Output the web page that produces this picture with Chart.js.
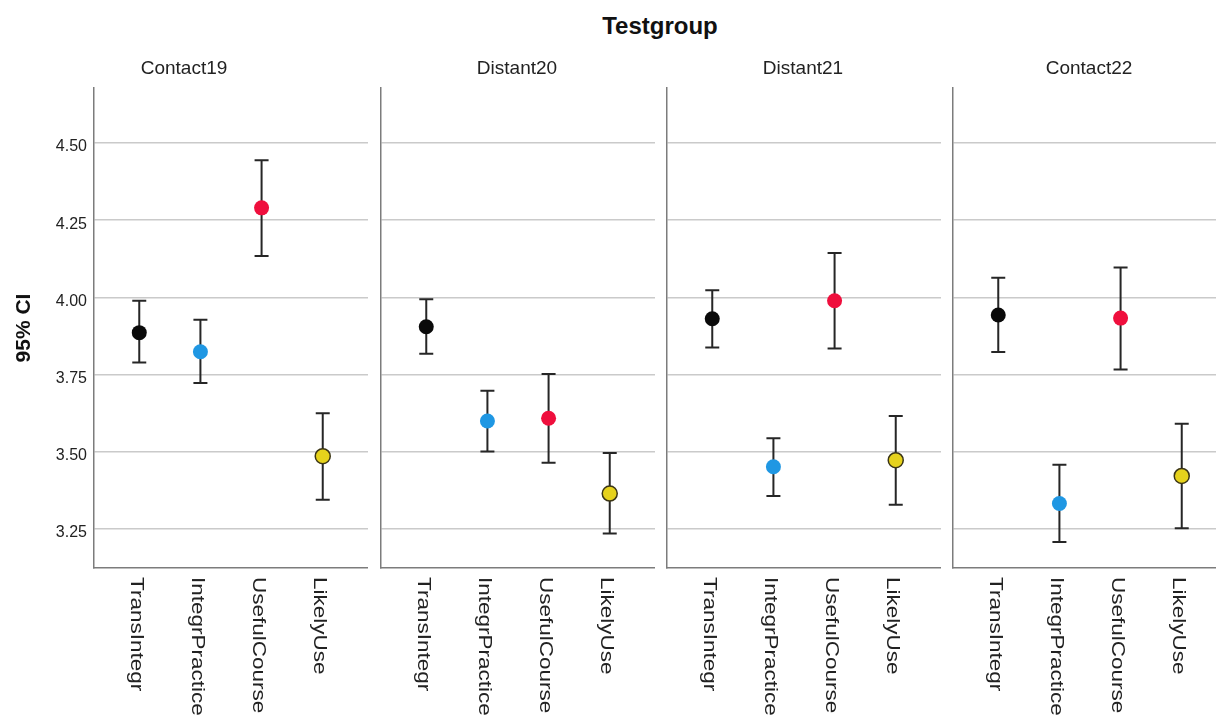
<!DOCTYPE html>
<html>
<head>
<meta charset="utf-8">
<script src="https://cdn.jsdelivr.net/npm/chart.js@4.4.1/dist/chart.umd.min.js"></script>
<style>
  html, body { margin: 0; padding: 0; background: #fff; overflow: hidden; }
  #wrap { position: relative; width: 1216px; height: 717px; overflow: hidden; }
  #wrap canvas { position: absolute; }
  #title { position: absolute; left: 560px; top: 14px; width: 200px; text-align: center;
           font: bold 24px/24px "Liberation Sans", Arial, sans-serif; color: #111; }
</style>
</head>
<body>
<div id="wrap">
  <div id="title">Testgroup</div>
  <canvas id="c0"></canvas>
  <canvas id="c1"></canvas>
  <canvas id="c2"></canvas>
  <canvas id="c3"></canvas>
</div>
<script>
// --- data ---
const categories = ['TransIntegr', 'IntegrPractice', 'UsefulCourse', 'LikelyUse'];
const groups = ['Contact19', 'Distant20', 'Distant21', 'Contact22'];
const yTicks = [3.25, 3.50, 3.75, 4.00, 4.25, 4.50];

const contact19Mean = [3.886, 3.824, 4.290, 3.486];
const contact19Low  = [3.789, 3.723, 4.134, 3.345];
const contact19High = [3.989, 3.928, 4.444, 3.625];

const distant20Mean = [3.905, 3.600, 3.609, 3.365];
const distant20Low  = [3.818, 3.501, 3.465, 3.236];
const distant20High = [3.994, 3.698, 3.752, 3.496];

const distant21Mean = [3.931, 3.452, 3.989, 3.473];
const distant21Low  = [3.838, 3.357, 3.835, 3.329];
const distant21High = [4.023, 3.544, 4.144, 3.616];

const contact22Mean = [3.943, 3.333, 3.933, 3.422];
const contact22Low  = [3.823, 3.208, 3.767, 3.253];
const contact22High = [4.064, 3.458, 4.097, 3.591];

const means = [contact19Mean, distant20Mean, distant21Mean, contact22Mean];
const lows  = [contact19Low, distant20Low, distant21Low, contact22Low];
const highs = [contact19High, distant20High, distant21High, contact22High];

// --- styling ---
const FONT = '"Liberation Sans", Arial, sans-serif';
const pointFill = ['#0a0a0a', '#1f97e3', '#ef0f3d', '#e6d21c'];
const pointEdge = ['#0a0a0a', '#1f97e3', '#ef0f3d', '#3b3516'];
const panelLeft = [94, 381, 667, 953];
const panelWidth = 274;
const axisColor = '#7c7c7c';

// error bars with caps, drawn through the chart's scales
const errorBars = {
  id: 'errorBars',
  beforeDatasetsDraw(chart) {
    const { ctx, scales: { x, y } } = chart;
    const ds = chart.data.datasets[0];
    ctx.save();
    ctx.strokeStyle = '#262626';
    ctx.lineWidth = 2;
    ds.low.forEach((lo, i) => {
      const px = x.getPixelForValue(i);
      const yLo = y.getPixelForValue(lo);
      const yHi = y.getPixelForValue(ds.high[i]);
      ctx.beginPath();
      ctx.moveTo(px, yLo); ctx.lineTo(px, yHi);
      ctx.moveTo(px - 7, yLo); ctx.lineTo(px + 7, yLo);
      ctx.moveTo(px - 7, yHi); ctx.lineTo(px + 7, yHi);
      ctx.stroke();
    });
    ctx.restore();
  }
};

// vertical category labels, reading top to bottom
const catLabels = {
  id: 'catLabels',
  afterDraw(chart) {
    const { ctx, chartArea, scales: { x } } = chart;
    ctx.save();
    ctx.fillStyle = '#222';
    ctx.font = '18px ' + FONT;
    ctx.textAlign = 'left';
    ctx.textBaseline = 'middle';
    categories.forEach((c, i) => {
      ctx.save();
      ctx.translate(x.getPixelForValue(i) - 3.5, chartArea.bottom + 9);
      ctx.rotate(Math.PI / 2);
      ctx.scale(1.25, 1);
      ctx.fillText(c, 0, 0);
      ctx.restore();
    });
    ctx.restore();
  }
};

function makePanel(i) {
  const first = i === 0;
  const canvas = document.getElementById('c' + i);
  // panels 2-4 get a 2px margin so the left axis line is not clipped
  const yWidth = first ? panelLeft[0] : 2;
  const left = panelLeft[i] - yWidth;
  canvas.width = yWidth + panelWidth;
  canvas.height = 667;
  canvas.style.left = left + 'px';
  canvas.style.top = '50px';

  new Chart(canvas.getContext('2d'), {
    type: 'scatter',
    data: {
      datasets: [{
        data: means[i].map((m, k) => ({ x: k, y: m })),
        low: lows[i],
        high: highs[i],
        pointRadius: 7.5,
        pointHoverRadius: 7.5,
        pointBackgroundColor: pointFill,
        pointBorderColor: pointEdge,
        pointBorderWidth: [0, 0, 0, 1.5]
      }]
    },
    options: {
      responsive: false,
      animation: false,
      layout: { padding: 0, autoPadding: false },
      plugins: {
        legend: { display: false },
        tooltip: { enabled: false },
        title: {
          display: true,
          text: groups[i],
          color: '#222',
          font: { family: FONT, size: 19, weight: 'normal' },
          padding: { top: 7.6, bottom: 7.6 }
        }
      },
      scales: {
        x: {
          type: 'linear',
          min: -0.74,
          max: 3.74,
          grid: { display: false },
          border: { display: true, color: axisColor, width: 1.5 },
          ticks: { display: false },
          afterFit: s => { s.height = 149; }
        },
        y: {
          min: 3.124,
          max: 4.678,
          afterBuildTicks: s => { s.ticks = yTicks.map(v => ({ value: v })); },
          grid: { color: '#cacaca', lineWidth: 1.6, drawTicks: false },
          border: { display: true, color: axisColor, width: 1.5 },
          ticks: {
            display: first,
            color: '#222',
            padding: 7,
            labelOffset: 4,
            font: { family: FONT, size: 16 },
            callback: v => v.toFixed(2)
          },
          title: {
            display: first,
            text: '95% CI',
            color: '#111',
            font: { family: FONT, size: 21, weight: 'bold' },
            padding: { top: 12, bottom: 0 }
          },
          afterFit: s => { s.width = yWidth; }
        }
      }
    },
    plugins: [errorBars, catLabels]
  });
}

groups.forEach((g, i) => makePanel(i));
</script>
</body>
</html>
